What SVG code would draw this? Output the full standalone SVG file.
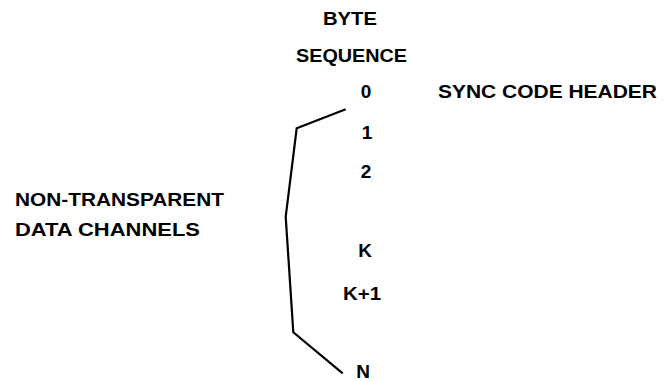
<svg xmlns="http://www.w3.org/2000/svg" width="671" height="381" viewBox="0 0 671 381">
  <style>
    .t { font-family: "Liberation Sans", Arial, sans-serif; font-weight: bold; font-size: 19px; fill: #000; }
    .c { text-anchor: middle; }
    .br { fill: none; stroke: #000; stroke-width: 2.2; stroke-linejoin: miter; }
  </style>
  <rect width="671" height="381" fill="#fff"/>
  <g id="heading">
    <text class="t" x="323" y="25" textLength="54" lengthAdjust="spacingAndGlyphs">BYTE</text>
    <text class="t" x="296" y="62" textLength="111" lengthAdjust="spacingAndGlyphs">SEQUENCE</text>
  </g>
  <g id="byte-0">
    <text class="t c" x="366" y="98">0</text>
  </g>
  <g id="sync-label">
    <text class="t" x="438" y="98" textLength="219" lengthAdjust="spacingAndGlyphs">SYNC CODE HEADER</text>
  </g>
  <g id="byte-1"><text class="t c" x="367" y="139">1</text></g>
  <g id="byte-2"><text class="t c" x="366" y="178">2</text></g>
  <g id="byte-k"><text class="t c" x="365" y="257">K</text></g>
  <g id="byte-k1"><text class="t" x="343" y="300" textLength="38" lengthAdjust="spacingAndGlyphs">K+1</text></g>
  <g id="byte-n"><text class="t c" x="363" y="378">N</text></g>
  <g id="channels-label">
    <text class="t" x="15" y="206" textLength="209" lengthAdjust="spacingAndGlyphs">NON-TRANSPARENT</text>
    <text class="t" x="15" y="236" textLength="185" lengthAdjust="spacingAndGlyphs">DATA CHANNELS</text>
  </g>
  <g id="connectors">
    <polyline class="br" points="345.7,109.3 296.7,128.3 285.7,216.7 293.3,332.3 342.7,373.3"/>
  </g>
</svg>
